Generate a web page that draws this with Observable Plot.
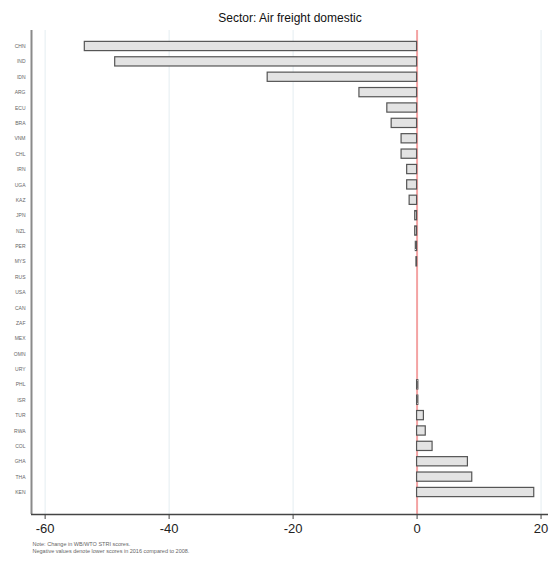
<!DOCTYPE html>
<html><head><meta charset="utf-8">
<script src="https://cdn.jsdelivr.net/npm/d3@7"></script>
<script src="https://cdn.jsdelivr.net/npm/@observablehq/plot@0.6"></script>
<style>body{margin:0;background:#fff;font-family:"Liberation Sans",Arial,sans-serif}</style>
</head><body><div id="chart"></div>
<script>
const countries = ["CHN","IND","IDN","ARG","ECU","BRA","VNM","CHL","IRN","UGA","KAZ","JPN","NZL","PER","MYS","RUS","USA","CAN","ZAF","MEX","OMN","URY","PHL","ISR","TUR","RWA","COL","GHA","THA","KEN"];
const changes = [-53.6,-48.7,-24.1,-9.3,-4.8,-4.1,-2.5,-2.5,-1.6,-1.6,-1.2,-0.3,-0.3,-0.2,-0.1,0,0,0,0,0,0,0,0.2,0.2,1.1,1.4,2.5,8.2,8.9,18.9];
const xTicks = [-60,-40,-20,0,20];
const title = "Sector: Air freight domestic";
const noteLine1 = "Note: Change in WB/WTO STRI scores.";
const noteLine2 = "Negative values denote lower scores in 2016 compared to 2008.";

const data = countries.map((c,i)=>({country:c, value:changes[i]}));
const xDomain = [-62.2, 21.2];

const plot = Plot.plot({
  width: 550, height: 565,
  marginLeft: 31, marginRight: 2, marginTop: 30, marginBottom: 51,
  style: {fontFamily: "'Liberation Sans', Arial, sans-serif", background: "#fff"},
  x: {domain: xDomain},
  y: {domain: countries, insetTop: 8.3, insetBottom: 14.3, paddingInner: 0.4, paddingOuter: 0.2, round: false},
  marks: [
    Plot.ruleX(xTicks.filter(d => d !== 0), {stroke: "#e4edf1", strokeWidth: 1}),
    Plot.ruleX([0], {stroke: "#f4a3a3", strokeWidth: 2}),
    Plot.barX(data, {x: "value", y: "country", fill: "#e3e3e3", stroke: "#555", strokeWidth: 1.2}),
    Plot.ruleX([xDomain[0]], {stroke: "#8a8a8a", strokeWidth: 2}),
    Plot.ruleY([0], {y: null, dy: 242, stroke: "#444", strokeWidth: 1.5}),
    Plot.axisY({tickSize: 0, tickPadding: 6, fontSize: 5, fill: "#666", label: null}),
    Plot.axisX({ticks: xTicks, tickSize: 5, tickPadding: 4, fontSize: 13, stroke: "#444", fill: "#222", label: null, tickFormat: d => d < 0 ? "-" + Math.abs(d) : String(d)}),
    Plot.text([title], {frameAnchor: "top", dy: -17, fontSize: 12, fill: "#111"}),
    Plot.text([noteLine1], {frameAnchor: "bottom-left", dx: 1, dy: 31, fontSize: 5.5, fill: "#666", textAnchor: "start"}),
    Plot.text([noteLine2], {frameAnchor: "bottom-left", dx: 1, dy: 38, fontSize: 5.5, fill: "#666", textAnchor: "start"})
  ]
});
document.getElementById("chart").appendChild(plot);
</script></body></html>
